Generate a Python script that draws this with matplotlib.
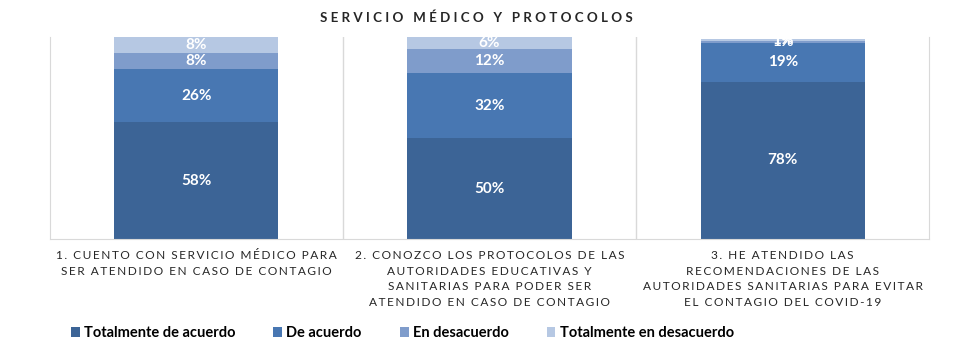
import numpy as np
import matplotlib.pyplot as plt

# data (percent)
categories = [
    "1. CUENTO CON SERVICIO MÉDICO PARA\nSER ATENDIDO EN CASO DE CONTAGIO",
    "2. CONOZCO LOS PROTOCOLOS DE LAS\nAUTORIDADES EDUCATIVAS Y\nSANITARIAS PARA PODER SER\nATENDIDO EN CASO DE CONTAGIO",
    "3. HE ATENDIDO LAS\nRECOMENDACIONES DE LAS\nAUTORIDADES SANITARIAS PARA EVITAR\nEL CONTAGIO DEL COVID-19",
]
series_names = ["Totalmente de acuerdo", "De acuerdo", "En desacuerdo",
                "Totalmente en desacuerdo"]
tot_acuerdo = [58, 50, 78]
de_acuerdo = [26, 32, 19]
en_desacuerdo = [8, 12, 1]
tot_desacuerdo = [8, 6, 1]

colors = ["#3c6496", "#4877b2", "#7f9ccb", "#b6c8e3"]


def spaced(s):
    # emulate the wide letter spacing of the original axis labels
    lines = []
    for line in s.split("\n"):
        lines.append("\u2009".join(line).replace("\u2009 \u2009", "  "))
    return "\n".join(lines)


fig = plt.figure(figsize=(9.58, 3.47), dpi=100)
ax = fig.add_axes([0.052, 0.311, 0.918, 0.582])

x = np.arange(len(categories))
values = [tot_acuerdo, de_acuerdo, en_desacuerdo, tot_desacuerdo]
bottom = np.zeros(len(categories))
for name, vals, c in zip(series_names, values, colors):
    vals = np.array(vals, dtype=float)
    ax.bar(x, vals, 0.56, bottom=bottom, color=c, label=name)
    for xi, b, v in zip(x, bottom, vals):
        ax.text(xi, b + v / 2, f"{int(v)}%", ha="center", va="center",
                color="white", fontsize=11, fontweight="bold",
                family="Lato")
    bottom += vals

ax.set_xlim(-0.5, 2.5)
ax.set_ylim(0, 100)
ax.set_yticks([])
ax.set_xticks(x)
ax.set_xticklabels([spaced(c) for c in categories], fontsize=8.6,
                   family="Lato", color="#262626", linespacing=1.5)
ax.tick_params(axis="x", length=0, pad=8)

for xb in [0.5, 1.5]:
    ax.axvline(xb, color="#d9d9d9", lw=1, zorder=0)
for s in ["left", "right", "bottom"]:
    ax.spines[s].set_color("#d9d9d9")
ax.spines["top"].set_visible(False)

fig.text(0.497, 0.95, "S E R V I C I O   M É D I C O   Y   P R O T O C O L O S",
         ha="center", va="center", fontsize=9.6, fontweight="bold",
         family="Lato", color="#262626")

handles, labels = ax.get_legend_handles_labels()
fig.legend(handles, labels, loc="center", bbox_to_anchor=(0.42, 0.04),
           ncol=4, frameon=False, handlelength=0.6,
           handleheight=0.6, handletextpad=0.3, columnspacing=2.6,
           prop={"family": "Lato", "weight": "bold", "size": 10.5})

fig.savefig("out.png", dpi=100)
